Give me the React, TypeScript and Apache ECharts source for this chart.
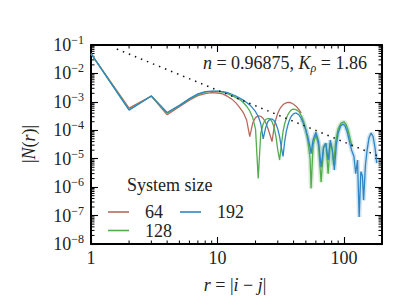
import React, { useEffect, useRef } from 'react';
import * as echarts from 'echarts';

const FONT = 'Liberation Serif';
const X_MIN = 1;
const X_MAX = 200;
const Y_MIN = 1e-8;
const Y_MAX = 1e-1;

const sizeNames = ['64', '128', '192'];
const sizeColors = ['#b8695e', '#52ad4c', '#2f86c5'];
const bandStart = 45;

const size64: [number, number][] = [
  [1, 5e-2], [2, 6e-4], [3, 1.6e-3], [4, 3.5e-4], [5, 6.8e-4], [6, 1.15e-3], [7, 1.65e-3],
  [8, 1.95e-3], [9, 2.1e-3], [10, 2.05e-3], [11, 1.9e-3], [12, 1.55e-3], [13, 1.25e-3],
  [14, 9.2e-4], [15, 6.3e-4], [16, 4.2e-4], [17, 2.3e-4], [18, 6e-5], [19, 1.8e-4],
  [20, 2.8e-4], [21, 3.2e-4], [22, 3.1e-4], [23, 2.6e-4], [24, 1.9e-4], [25, 1.2e-4],
  [26, 7e-5], [27, 4e-5], [28, 1.2e-4], [29, 2.5e-4], [30, 4e-4], [31, 5.5e-4],
  [32, 6.8e-4], [33, 7.9e-4], [34, 8.7e-4], [35, 9.2e-4], [36, 9.5e-4], [37, 9.5e-4],
  [38, 9.3e-4], [39, 8.8e-4], [40, 8.2e-4], [42, 6.9e-4], [44, 5.4e-4], [46, 4e-4],
];

const size128: [number, number][] = [
  [1, 5e-2], [2, 5.3e-4], [3, 1.6e-3], [4, 4e-4], [5, 7.3e-4], [6, 1.25e-3], [7, 1.8e-3],
  [8, 2.2e-3], [9, 2.35e-3], [10, 2.35e-3], [11, 2.2e-3], [12, 1.95e-3], [13, 1.65e-3],
  [14, 1.4e-3], [15, 1.2e-3], [16, 9.5e-4], [17, 7e-4], [18, 4.8e-4], [19, 2.8e-4],
  [20, 1.1e-4], [21, 2e-6], [22, 8e-5], [23, 1.7e-4], [24, 2.4e-4], [25, 2.6e-4],
  [26, 2.5e-4], [27, 2e-4], [28, 1.3e-4], [29, 6e-5], [30, 2e-5], [31, 9e-6], [32, 3e-5],
  [33, 9e-5], [34, 1.7e-4], [35, 2.6e-4], [36, 3.5e-4], [37, 4.3e-4], [38, 5e-4],
  [39, 5.4e-4], [40, 5.5e-4], [41, 5.4e-4], [42, 5.2e-4], [44, 4.6e-4], [46, 3.3e-4],
  [48, 2e-4], [50, 1e-4], [52, 4e-5], [54, 1e-5], [55, 9e-7], [57, 3e-5], [60, 7e-5],
  [63, 3e-5], [66, 1.5e-6], [69, 2.5e-5], [72, 3.5e-5], [75, 3e-6], [78, 3.5e-5],
  [81, 2e-5], [83, 6e-6], [86, 4e-5], [90, 1.1e-4], [95, 1.8e-4], [100, 2e-4],
  [104, 1.6e-4], [108, 1e-4], [112, 5e-5], [116, 2.6e-5],
];

const size192: [number, number][] = [
  [1, 5e-2], [2, 5.1e-4], [3, 1.6e-3], [4, 4.2e-4], [5, 7.5e-4], [6, 1.3e-3], [7, 1.9e-3],
  [8, 2.3e-3], [9, 2.4e-3], [10, 2.4e-3], [11, 2.3e-3], [12, 2.1e-3], [13, 1.85e-3],
  [14, 1.6e-3], [15, 1.35e-3], [16, 1.15e-3], [17, 9.5e-4], [18, 7.8e-4], [19, 6e-4],
  [20, 4.5e-4], [21, 3.1e-4], [22, 1.7e-4], [23, 5e-5], [24, 1.2e-4], [25, 2e-4],
  [26, 2.45e-4], [27, 2.5e-4], [28, 2.2e-4], [29, 1.7e-4], [30, 1.1e-4], [31, 6e-5],
  [32, 2.5e-5], [33, 1.2e-5], [34, 4e-5], [35, 9e-5], [36, 1.5e-4], [37, 2.2e-4],
  [38, 2.9e-4], [39, 3.4e-4], [40, 3.8e-4], [41, 4e-4], [42, 4e-4], [44, 3.5e-4],
  [46, 2.6e-4], [48, 1.7e-4], [50, 1e-4], [52, 5.5e-5], [54, 2.5e-5], [55, 1.5e-5],
  [57, 4.5e-5], [60, 8.5e-5], [63, 4e-5], [66, 5e-6], [69, 2.5e-5], [72, 3.5e-5],
  [75, 9e-6], [78, 4.5e-5], [81, 2e-5], [84, 4e-6], [87, 3e-5], [90, 8e-5], [94, 1.4e-4],
  [98, 1.65e-4], [102, 1.45e-4], [106, 9e-5], [110, 4.5e-5], [115, 2e-5], [120, 1.2e-5],
  [124, 3e-6], [128, 9e-6], [132, 9e-8], [136, 3.5e-6], [140, 2.5e-6], [143, 3.5e-7],
  [148, 6e-6], [152, 1.8e-5], [158, 5.5e-5], [164, 8e-5], [170, 6e-5], [176, 2.5e-5],
  [182, 7e-6],
];

const powerLaw: [number, number][] = [[1.6, 7.2e-2], [200, 1.1e-5]];

const minorMantissas = [2, 3, 4, 5, 6, 7, 8, 9];
const xMinorDecades = [1, 10, 100];
const yMinorDecades = [1e-8, 1e-7, 1e-6, 1e-5, 1e-4, 1e-3, 1e-2];

const xMinorTicks = xMinorDecades
  .flatMap((d) => minorMantissas.map((m) => m * d))
  .filter((v) => v < X_MAX);
const yMinorTicks = yMinorDecades.flatMap((d) => minorMantissas.map((m) => m * d));

function isPow10(v: number) {
  const l = Math.log10(v);
  return Math.abs(l - Math.round(l)) < 1e-6;
}

export default function App() {
  const ref = useRef<HTMLDivElement>(null);
  useEffect(() => {
    document.body.style.margin = '0';
    if (!ref.current) return;
    const chart = echarts.init(ref.current, undefined, { renderer: 'svg' });
    const axisLine = { show: true, lineStyle: { color: '#000', width: 2 } };
    const majorTick = { show: true, inside: true, length: 7, lineStyle: { color: '#000', width: 1.1 } };
    const yLabelRich = {
      b: { fontFamily: FONT, fontSize: 18, color: '#222', lineHeight: 24 },
      s: { fontFamily: FONT, fontSize: 12, color: '#222', verticalAlign: 'top', padding: [1, 0, 0, 0] },
    };
    const tickLine = (x1: number, y1: number, x2: number, y2: number) => ({
      type: 'line',
      shape: { x1, y1, x2, y2 },
      style: { stroke: '#000', lineWidth: 1 },
    });
    const allSizes = [size64, size128, size192];
    const lineSeries = allSizes.map((d, i) => ({
      type: 'line',
      name: sizeNames[i],
      data: d,
      symbol: 'none',
      showSymbol: false,
      lineStyle: { color: sizeColors[i], width: 1.3 },
      itemStyle: { color: sizeColors[i] },
      z: 3 + i,
    }));
    const bandSeries = [1, 2].map((i) => ({
      type: 'line',
      name: 'band' + sizeNames[i],
      data: allSizes[i].filter(([r]) => r >= bandStart),
      symbol: 'none',
      showSymbol: false,
      silent: true,
      lineStyle: { color: sizeColors[i], width: 4.5, opacity: 0.22 },
      z: 2,
    }));
    const legendBase = {
      left: 108, padding: 0, itemWidth: 21, itemHeight: 1.6, itemGap: 17, icon: 'rect',
      textStyle: { fontFamily: FONT, fontSize: 18, color: '#222', padding: [0, 0, 0, 11] },
      selectedMode: false,
    };
    const option: any = {
      animation: false,
      backgroundColor: '#fff',
      textStyle: { fontFamily: FONT },
      grid: { left: 91, right: 33, top: 45, bottom: 61, containLabel: false },
      xAxis: [
        {
          type: 'log', min: X_MIN, max: X_MAX, position: 'bottom',
          axisLine, axisTick: majorTick, splitLine: { show: false },
          axisLabel: {
            margin: 5, fontFamily: FONT, fontSize: 18, color: '#222', showMaxLabel: false,
            formatter: (v: number) => (isPow10(v) ? String(Math.round(v)) : ''),
          },
        },
        {
          type: 'log', min: X_MIN, max: X_MAX, position: 'top',
          axisLine, axisTick: majorTick, splitLine: { show: false }, axisLabel: { show: false },
        },
      ],
      yAxis: [
        {
          type: 'log', min: Y_MIN, max: Y_MAX, position: 'left',
          axisLine, axisTick: majorTick, splitLine: { show: false },
          axisLabel: {
            margin: 7, color: '#222', fontFamily: FONT,
            formatter: (v: number) => {
              if (!isPow10(v)) return '';
              const e = Math.round(Math.log10(v));
              return `{b|10}{s|\u2212${-e}}`;
            },
            rich: yLabelRich,
          },
        },
        {
          type: 'log', min: Y_MIN, max: Y_MAX, position: 'right',
          axisLine, axisTick: majorTick, splitLine: { show: false }, axisLabel: { show: false },
        },
      ],
      legend: [
        { ...legendBase, data: ['64', '192'], top: 203 },
        { ...legendBase, data: ['128'], top: 221.5 },
      ],
      graphic: [
        {
          type: 'text', x: 367, y: 63, z: 100,
          style: {
            text: '{i|n} = 0.96875, {i|K}{s|\u03c1} = 1.86',
            fontFamily: FONT, fontSize: 18, lineHeight: 24, fill: '#222',
            align: 'right', verticalAlign: 'middle', textAlign: 'right', textVerticalAlign: 'middle',
            rich: {
              i: { fontFamily: FONT, fontSize: 18, fontStyle: 'italic', lineHeight: 24, fill: '#222', color: '#222' },
              s: { fontFamily: FONT, fontSize: 12, fontStyle: 'italic', verticalAlign: 'bottom', padding: [0, 0, 1, 0], fill: '#222', color: '#222' },
            },
          },
        },
        {
          type: 'text', x: 127, y: 185, z: 100,
          style: {
            text: 'System size', fontFamily: FONT, fontSize: 18, fill: '#222',
            align: 'left', verticalAlign: 'middle', textAlign: 'left', textVerticalAlign: 'middle',
          },
        },
        {
          type: 'text', x: 235, y: 285, z: 100,
          style: {
            text: '{i|r} = |{i|i} \u2212 {i|j}|',
            fontFamily: FONT, fontSize: 18, lineHeight: 24, fill: '#222',
            align: 'center', verticalAlign: 'middle', textAlign: 'center', textVerticalAlign: 'middle',
            rich: { i: { fontFamily: FONT, fontSize: 18, fontStyle: 'italic', lineHeight: 24, fill: '#222', color: '#222' } },
          },
        },
        {
          type: 'text', x: 29, y: 144, z: 100, rotation: Math.PI / 2,
          style: {
            text: '|{i|N}({i|r})|',
            fontFamily: FONT, fontSize: 18, lineHeight: 24, fill: '#222',
            align: 'center', verticalAlign: 'middle', textAlign: 'center', textVerticalAlign: 'middle',
            rich: { i: { fontFamily: FONT, fontSize: 18, fontStyle: 'italic', lineHeight: 24, fill: '#222', color: '#222' } },
          },
        },
      ],
      series: [
        {
          type: 'line', name: 'fit', data: powerLaw, symbol: 'none', showSymbol: false,
          lineStyle: { color: '#111', width: 1.5, type: [1.5, 5] }, z: 10, clip: true,
        },
        ...bandSeries,
        ...lineSeries,
        {
          type: 'custom', name: 'xminor', silent: true, clip: false,
          data: xMinorTicks.map((v) => [v, Y_MIN]),
          renderItem: (_p: any, api: any) => {
            const v = api.value(0);
            const b = api.coord([v, Y_MIN]);
            const t = api.coord([v, Y_MAX]);
            return {
              type: 'group',
              children: [tickLine(b[0], b[1], b[0], b[1] - 3.5), tickLine(t[0], t[1], t[0], t[1] + 3.5)],
            };
          },
        },
        {
          type: 'custom', name: 'yminor', silent: true, clip: false,
          data: yMinorTicks.map((v) => [X_MIN, v]),
          renderItem: (_p: any, api: any) => {
            const v = api.value(1);
            const l = api.coord([X_MIN, v]);
            const r = api.coord([X_MAX, v]);
            return {
              type: 'group',
              children: [tickLine(l[0], l[1], l[0] + 3.5, l[1]), tickLine(r[0], r[1], r[0] - 3.5, r[1])],
            };
          },
        },
      ],
    };
    chart.setOption(option);
    return () => chart.dispose();
  }, []);
  return <div ref={ref} style={{ width: 415, height: 305 }} />;
}
